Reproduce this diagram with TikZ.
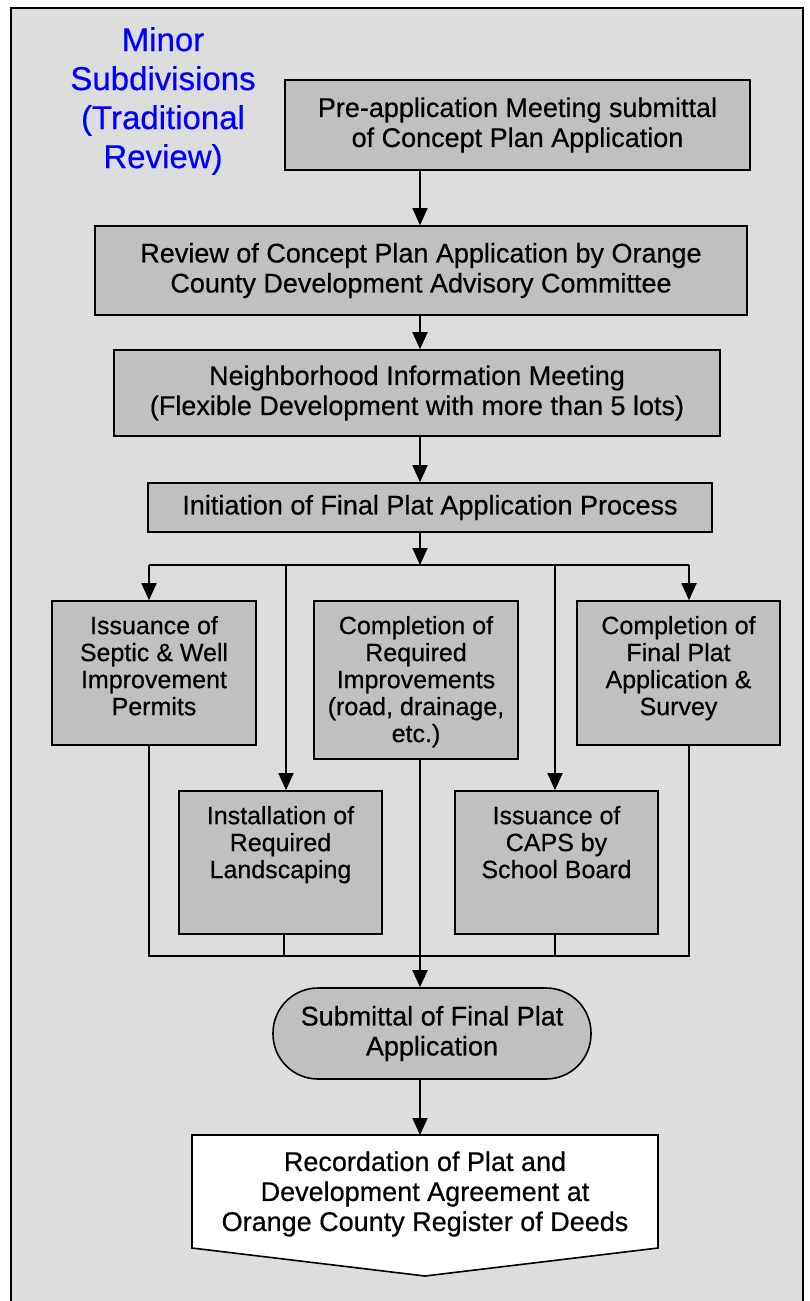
\documentclass[tikz,border=0pt]{standalone}
\usepackage{fontspec}
\setmainfont{Liberation Sans}[FakeBold=0.5]
\usetikzlibrary{arrows.meta}
\definecolor{panel}{HTML}{DDDDDD}
\definecolor{boxgray}{HTML}{C0C0C0}
\definecolor{titleblue}{HTML}{0000FF}
% text set from the top of a fixed-size cell
\newcommand{\celltext}[3]{\parbox[c][#2pt][t]{#1pt}{\centering\vspace*{15pt}#3}}
\tikzset{
  stepbox/.style={draw, line width=1.6pt, fill=boxgray, align=center,
    font=\fontsize{27}{30}\selectfont},
  cellbox/.style={draw, line width=1.6pt, fill=boxgray, inner sep=0pt,
    font=\fontsize{25}{27}\selectfont},
  arr/.style={line width=1.8pt, -{Triangle[length=17pt,width=15pt]}},
  link/.style={line width=1.3pt}
}
\begin{document}
\begin{tikzpicture}[x=1pt, y=-1pt]
    \useasboundingbox (0,0) rectangle (809,1301);
    \draw[line width=1.6pt, fill=panel] (11,1306) -- (11,8) -- (803,8) -- (803,1306);
    \node[text=titleblue, align=center, font=\fontsize{33}{39}\selectfont] (title) at (163,101) {Minor\\Subdivisions\\(Traditional\\Review)};

    % main steps
    \node[stepbox, minimum width=465, minimum height=90] (pre) at (517.5,125) {Pre-application Meeting submittal\\of Concept Plan Application};
    \node[stepbox, minimum width=652, minimum height=89] (dac) at (421,270.5) {Review of Concept Plan Application by Orange\\County Development Advisory Committee};
    \node[stepbox, minimum width=606, minimum height=86] (nim) at (417,393) {Neighborhood Information Meeting\\(Flexible Development with more than 5 lots)};
    \node[stepbox, minimum width=564, minimum height=49] (init) at (430,507.5) {Initiation of Final Plat Application Process};

    % parallel tasks
    \node[cellbox] (septic) at (154,673) {\celltext{204}{144}{Issuance of\\Septic \& Well\\Improvement\\Permits}};
    \node[cellbox] (improve) at (416,680) {\celltext{204}{158}{Completion of\\Required\\Improvements\\(road, drainage,\\etc.)}};
    \node[cellbox] (survey) at (678.5,673) {\celltext{203}{144}{Completion of\\Final Plat\\Application \&\\Survey}};
    \node[cellbox] (landsc) at (280.5,862.5) {\celltext{203}{143}{Installation of\\Required\\Landscaping}};
    \node[cellbox] (caps) at (556.5,862.5) {\celltext{203}{143}{Issuance of\\CAPS by\\School Board}};

    \node[stepbox, rounded corners=45pt, minimum width=318, minimum height=91] (submit) at (432,1033.5) {Submittal of Final Plat\\Application};

    % recordation, off-page shape
    \draw[line width=1.6pt, fill=white] (192,1135) -- (658,1135) -- (658,1248) -- (425,1276) -- (192,1248) -- cycle;
    \node[align=center, font=\fontsize{27}{30}\selectfont] (record) at (425,1194) {Recordation of Plat and\\Development Agreement at\\Orange County Register of Deeds};
    \coordinate (recTop) at (420,1135);

    % split and join points
    \coordinate (split) at (420,565);
    \coordinate (splitL) at (149,565);
    \coordinate (splitR) at (689,565);
    \coordinate (tapB) at (286,565);
    \coordinate (tapE) at (555,565);
    \coordinate (joinL) at (149,956);
    \coordinate (joinR) at (689,956);

    \draw[arr] (pre.south -| split) -- (dac.north -| split);
    \draw[arr] (dac.south -| split) -- (nim.north -| split);
    \draw[arr] (nim.south -| split) -- (init.north -| split);
    \draw[arr] (init.south -| split) -- (split);
    \draw[line width=1.8pt] (splitL) -- (splitR);
    \draw[arr] (splitL) -- (splitL |- septic.north);
    \draw[arr] (splitR) -- (splitR |- survey.north);
    \draw[arr] (tapB) -- (tapB |- landsc.north);
    \draw[arr] (tapE) -- (tapE |- caps.north);

    \draw[link] (septic.south -| joinL) -- (joinL) -- (joinR) -- (survey.south -| joinR);
    \draw[link] (landsc.south -| 284,0) -- (joinL -| 284,0);
    \draw[link] (caps.south -| 555,0) -- (joinL -| 555,0);
    \draw[arr] (improve.south -| split) -- (submit.north -| split);
    \draw[arr] (submit.south -| split) -- (recTop);
\end{tikzpicture}
\end{document}
